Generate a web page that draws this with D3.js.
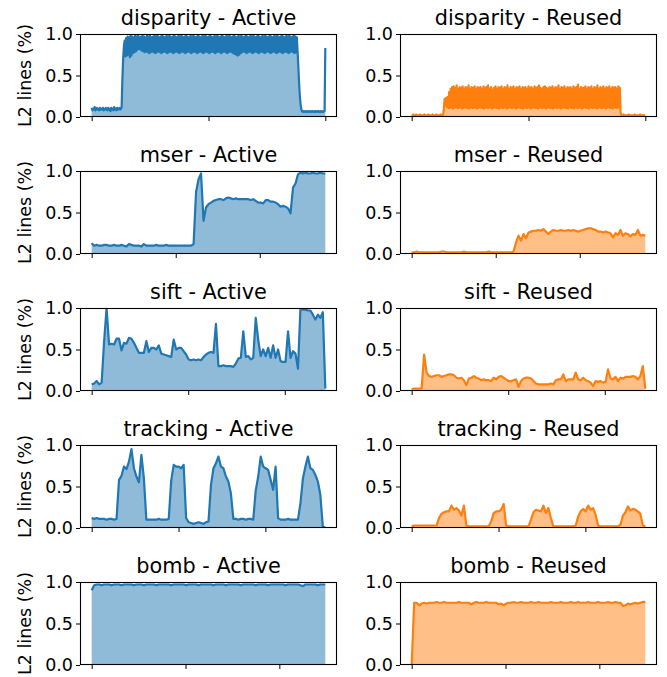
<!DOCTYPE html>
<html>
<head>
<meta charset="utf-8">
<script src="https://cdn.jsdelivr.net/npm/d3@7"></script>
<style>
  body { margin: 0; background: #fff; }
  svg text { font-family: "DejaVu Sans", sans-serif; fill: #000; }
</style>
</head>
<body>
<svg id="chart" width="667" height="677"></svg>
<script>
// benchmarks, one row each
const benchmarks = ["disparity", "mser", "sift", "tracking", "bomb"];
const spans = [2000, 278, 242, 269, 249];      // length of each trace (samples)
const tickSteps = [1000, 100, 100, 100, 100];
const yTicks = [0, 50, 100];
const yTickLabels = ["0.0", "0.5", "1.0"];
const kinds = ["Active", "Reused"];
const colors = ["#1f77b4", "#ff7f0e"];

// values in hundredths of the L2 lines
const disparityActive = [
  11, 8, 10, 9, 12, 8, 10, 11, 9, 10, 8, 11, 9, 10, 9, 11, 8, 10, 9, 11,
  10, 8, 11, 9, 10, 7, 11, 9, 10, 8, 12, 9, 10, 8, 11, 9, 10, 11, 9, 10, 12,
  45, 70, 85, 92,
  73, 95, 74, 97, 75, 96, 72, 98, 74, 97, 77, 96, 78, 98, 79, 97, 81, 99, 82, 96,
  81, 97, 80, 98, 79, 97, 78, 96, 79, 99, 78, 97, 77, 98, 78, 96, 79, 97, 78, 98,
  77, 97, 78, 99, 79, 96, 78, 97, 77, 98, 78, 97, 79, 96, 78, 98, 77, 97, 78, 99,
  79, 96, 78, 97, 77, 98, 78, 97, 79, 96, 78, 98, 77, 97, 78, 99, 79, 96, 78, 97,
  77, 98, 78, 97, 79, 96, 78, 98, 77, 97, 78, 99, 79, 96, 78, 97, 77, 98, 78, 97,
  79, 96, 78, 98, 77, 97, 78, 99, 79, 96, 78, 97, 77, 98, 78, 97, 79, 96, 78, 98,
  77, 97, 78, 99, 79, 96, 78, 97, 77, 98, 78, 97, 79, 96, 78, 98, 77, 97, 78, 99,
  79, 96, 78, 97, 77, 98, 76, 97, 75, 96, 74, 98, 75, 97, 77, 99, 78, 96, 79, 97,
  78, 98, 77, 97, 78, 96, 79, 98, 78, 97, 77, 99, 78, 96, 79, 97, 78, 98, 77, 97,
  78, 96, 79, 98, 78, 97, 77, 99, 78, 96, 79, 97, 78, 98, 77, 97, 78, 96, 79, 98,
  78, 97, 77, 99, 78, 96, 79, 97, 78, 98, 77, 97, 78, 96, 79, 98, 78, 97, 77, 99,
  78, 96, 79, 97, 78, 98, 77, 97, 78, 96,
  78, 60, 40, 25, 15, 9,
  7, 6, 7, 7, 6, 7, 6, 7, 7, 6, 7, 7, 6, 7, 7, 6, 7, 6, 7, 7,
  6, 7, 7, 6, 7, 6, 7, 7, 6, 7, 7,
  83
];
const disparityReused = [
  2, 2, 3, 2, 2, 2, 3, 2, 2, 2, 2, 3, 2, 2, 2, 2, 2, 3, 2, 2,
  2, 2, 3, 2, 2, 2, 2, 2, 3, 2, 2, 2, 2, 3, 2, 2, 2, 2, 2, 3, 2, 2, 3,
  10, 22, 14, 23, 12, 24, 11, 30,
  11, 34, 12, 36, 10, 37, 11, 35, 12, 38, 11, 34, 11, 36, 12, 35, 10, 37, 11, 34,
  12, 36, 11, 35, 11, 38, 10, 34, 12, 36, 11, 35, 11, 37, 12, 34, 10, 36, 11, 35,
  12, 36, 11, 34, 11, 37, 10, 35, 12, 36, 11, 38, 11, 34, 12, 36, 10, 33, 11, 35,
  12, 37, 11, 34, 11, 36, 10, 35, 12, 37, 11, 34, 11, 36, 12, 35, 10, 38, 11, 34,
  12, 36, 11, 35, 11, 37, 12, 34, 10, 36, 11, 35, 12, 37, 11, 34, 11, 36, 10, 35,
  12, 36, 11, 34, 11, 37, 12, 35, 10, 36, 11, 34, 12, 37, 11, 35, 11, 36, 10, 38,
  12, 35, 11, 34, 11, 36, 12, 37, 10, 35, 11, 34, 12, 36, 11, 35, 11, 37, 10, 34,
  12, 36, 11, 35, 11, 38, 12, 34, 10, 36, 11, 35, 12, 37, 11, 34, 11, 36, 10, 35,
  12, 36, 11, 34, 11, 37, 10, 35, 12, 36, 11, 39, 11, 34, 12, 36, 10, 35, 11, 35,
  12, 37, 11, 34, 11, 36, 10, 35, 12, 37, 11, 34, 11, 36, 12, 35, 10, 38, 11, 34,
  12, 36, 11, 35, 11, 37, 12, 34, 10, 36, 11, 35, 12, 37, 11, 34, 11, 36, 10, 35,
  12, 36, 11, 34, 11, 37, 12, 35,
  5,
  2, 2, 2, 3, 2, 2, 2, 2, 2, 2, 3, 2, 2, 2, 2, 2, 2, 2, 3, 2,
  2, 2, 2, 2, 2, 3, 2, 2, 2, 2, 2, 2, 2
];
const mserActive = [
  13, 10, 11, 10, 10, 11, 11, 10, 10, 11, 10, 10, 11, 10, 9, 12, 11, 10, 10, 10,
  9, 12, 10, 10, 10, 10, 11, 10, 10, 10, 11, 10, 10, 10, 10, 10, 10, 10, 10, 10,
  10, 12, 75, 90, 97, 40, 56, 60, 62, 64, 65, 66, 66, 65, 67, 68, 67, 66, 67, 66,
  66, 66, 66, 66, 65, 66, 64, 62, 62, 61, 65, 65, 63, 63, 62, 60, 57, 58, 57, 55,
  49, 80, 85, 96, 98, 97, 98, 97, 97, 98, 97, 97, 98, 97, 97
];
const mserReused = [
  2, 2, 3, 2, 2, 2, 2, 2, 2, 2, 2, 2, 3, 3, 2, 2, 2, 2, 2, 2,
  2, 3, 2, 2, 2, 2, 2, 2, 2, 2, 2, 3, 2, 2, 2, 2, 2, 2, 2, 2, 2,
  3, 14, 22, 16, 24, 19, 26, 27, 28, 28, 29, 28, 30, 27, 24, 27, 29, 28, 28, 29,
  28, 28, 29, 28, 29, 28, 27, 28, 29, 30, 31, 31, 30, 29, 27, 27, 26, 27, 26, 25,
  20, 25, 23, 29, 22, 25, 24, 21, 24, 23, 29, 22, 23, 22
];
const siftActive = [
  8, 9, 12, 8, 10,
  60, 100, 56, 57, 56, 63, 63, 49, 58, 57, 64, 63, 58, 52, 46, 46, 46, 60, 47, 52,
  52, 50, 55, 45, 44, 43, 42, 41, 62, 50, 52, 52, 48, 44, 38, 37, 38, 37, 38, 37,
  41, 44, 46, 47, 46, 81, 30, 30, 31, 30, 30, 30, 29, 33, 39, 40, 72, 41, 42, 38,
  40, 88, 62, 42, 50, 42, 52, 40, 55, 40, 50, 36, 35, 35, 72, 40, 48, 45, 27, 100,
  98, 98, 97, 97, 92, 86, 92, 88, 95, 3
];
const siftReused = [
  2, 3, 3, 3, 3,
  44, 22, 18, 17, 18, 19, 19, 17, 18, 19, 20, 20, 19, 16, 15, 16, 13, 7, 15, 16,
  18, 16, 15, 13, 14, 13, 13, 12, 16, 14, 17, 18, 16, 14, 12, 12, 13, 14, 5, 12,
  15, 16, 16, 15, 12, 9, 8, 8, 8, 8, 8, 9, 8, 13, 14, 14, 20, 12, 14, 14,
  14, 22, 14, 13, 16, 13, 12, 10, 6, 12, 11, 12, 10, 11, 26, 15, 14, 17, 12, 16,
  15, 17, 17, 17, 18, 17, 14, 18, 30, 3
];
const trackingActive = [
  12, 11, 12, 11, 11, 11, 10, 11, 11, 10, 11, 58, 63, 74, 71, 80, 95, 72, 62, 55,
  88, 60, 10, 10, 10, 10, 10, 11, 10, 10, 10, 11, 57, 76, 74, 74, 72, 76, 12, 7,
  6, 5, 6, 7, 6, 5, 7, 8, 52, 72, 78, 86, 74, 72, 62, 56, 42, 11, 11, 10,
  11, 11, 10, 11, 11, 10, 45, 62, 86, 74, 72, 70, 58, 46, 74, 12, 10, 10, 10, 11,
  10, 10, 10, 10, 30, 60, 74, 86, 72, 70, 64, 56, 40, 1, 1
];
const trackingReused = [
  2, 3, 3, 3, 3, 3, 3, 3, 3, 3, 3, 12, 17, 19, 20, 20, 27, 22, 24, 21,
  15, 27, 3, 2, 2, 2, 2, 2, 2, 2, 2, 2, 8, 18, 20, 20, 22, 29, 3, 2,
  2, 2, 2, 2, 2, 2, 2, 2, 10, 19, 22, 21, 20, 27, 18, 24, 12, 2, 2, 2,
  2, 2, 2, 2, 2, 2, 3, 14, 20, 23, 20, 27, 22, 24, 16, 3, 2, 2, 2, 2,
  2, 2, 2, 2, 4, 15, 19, 26, 21, 23, 22, 20, 17, 3, 2
];
const bombActive = [
  90, 96, 97, 97, 96, 97, 97, 97, 96, 97, 97, 97, 96, 97, 97, 97, 97, 96, 97, 97,
  97, 96, 97, 97, 97, 97, 96, 97, 97, 97, 97, 97, 96, 97, 97, 97, 97, 97, 96, 97,
  97, 97, 97, 96, 97, 97, 97, 97, 97, 96, 97, 97, 97, 97, 96, 97, 97, 97, 97, 97,
  96, 97, 97, 97, 97, 97, 96, 97, 97, 97, 97, 96, 97, 97, 97, 97, 97, 97, 96, 97,
  97, 97, 97, 97, 96, 95, 97, 97, 97, 97, 97, 96, 97, 97, 97
];
const bombReused = [
  0, 75, 75, 72, 74, 75, 74, 75, 75, 75, 76, 75, 75, 76, 75, 75, 75, 75, 75, 76,
  75, 75, 75, 75, 73, 75, 76, 75, 75, 75, 76, 75, 75, 75, 75, 73, 74, 72, 74, 75,
  75, 76, 75, 75, 76, 75, 75, 75, 76, 75, 75, 76, 75, 75, 75, 75, 76, 75, 75, 75,
  76, 75, 75, 75, 76, 75, 75, 76, 75, 75, 75, 76, 75, 75, 75, 76, 75, 75, 75, 76,
  75, 75, 76, 75, 75, 71, 72, 74, 73, 74, 75, 74, 75, 76, 76
];

const activeSeries = [disparityActive, mserActive, siftActive, trackingActive, bombActive];
const reusedSeries = [disparityReused, mserReused, siftReused, trackingReused, bombReused];

const svg = d3.select("#chart");
const colLeft = [80, 400];
const rowTop = [34, 171, 308, 445, 582];
const axW = 257, axH = 83;

benchmarks.forEach(function(name, r) {
  [activeSeries[r], reusedSeries[r]].forEach(function(vals, c) {
    const g = svg.append("g").attr("transform", "translate(" + colLeft[c] + "," + rowTop[r] + ")");
    const x = d3.scaleLinear().domain([-0.05 * spans[r], 1.05 * spans[r]]).range([0, axW]);
    const y = d3.scaleLinear().domain([0, 100]).range([axH, 0]);
    const pts = vals.map(function(v, i) { return [i / (vals.length - 1) * spans[r], v]; });
    const clipId = "clip-" + r + "-" + c;

    g.append("clipPath").attr("id", clipId)
      .append("rect").attr("width", axW).attr("height", axH);

    const plot = g.append("g").attr("clip-path", "url(#" + clipId + ")");
    plot.append("path")
      .datum(pts)
      .attr("fill", colors[c])
      .attr("fill-opacity", 0.5)
      .attr("d", d3.area().x(function(d) { return x(d[0]); }).y0(y(0)).y1(function(d) { return y(d[1]); }));
    plot.append("path")
      .datum(pts)
      .attr("fill", "none")
      .attr("stroke", colors[c])
      .attr("stroke-width", 2.2)
      .attr("stroke-linejoin", "round")
      .attr("d", d3.line().x(function(d) { return x(d[0]); }).y(function(d) { return y(d[1]); }));

    // y axis
    const ya = g.append("g")
      .call(d3.axisLeft(y).tickValues(yTicks).tickFormat(function(d, i) { return yTickLabels[i]; })
        .tickSize(4).tickSizeOuter(0).tickPadding(3));
    ya.select(".domain").remove();
    ya.selectAll("text").attr("font-size", 17.5).attr("font-family", null);
    ya.selectAll("line").attr("stroke", "#000");

    // x axis, ticks only
    const xa = g.append("g").attr("transform", "translate(0," + axH + ")")
      .call(d3.axisBottom(x).tickValues([0, tickSteps[r], 2 * tickSteps[r]]).tickFormat("")
        .tickSize(4).tickSizeOuter(0));
    xa.select(".domain").remove();

    // spines
    g.append("rect")
      .attr("x", 0.5).attr("y", 0.5)
      .attr("width", axW - 1).attr("height", axH - 1)
      .attr("fill", "none").attr("stroke", "#000").attr("stroke-width", 1.1);

    g.append("text")
      .attr("x", axW / 2).attr("y", -9)
      .attr("text-anchor", "middle")
      .attr("font-size", 20.8)
      .text(name + " - " + kinds[c]);

    if (c === 0) {
      svg.append("text")
        .attr("transform", "translate(31," + (rowTop[r] + axH / 2) + ") rotate(-90)")
        .attr("text-anchor", "middle")
        .attr("font-size", 17.5)
        .text("L2 lines (%)");
    }
  });
});
</script>
</body>
</html>
